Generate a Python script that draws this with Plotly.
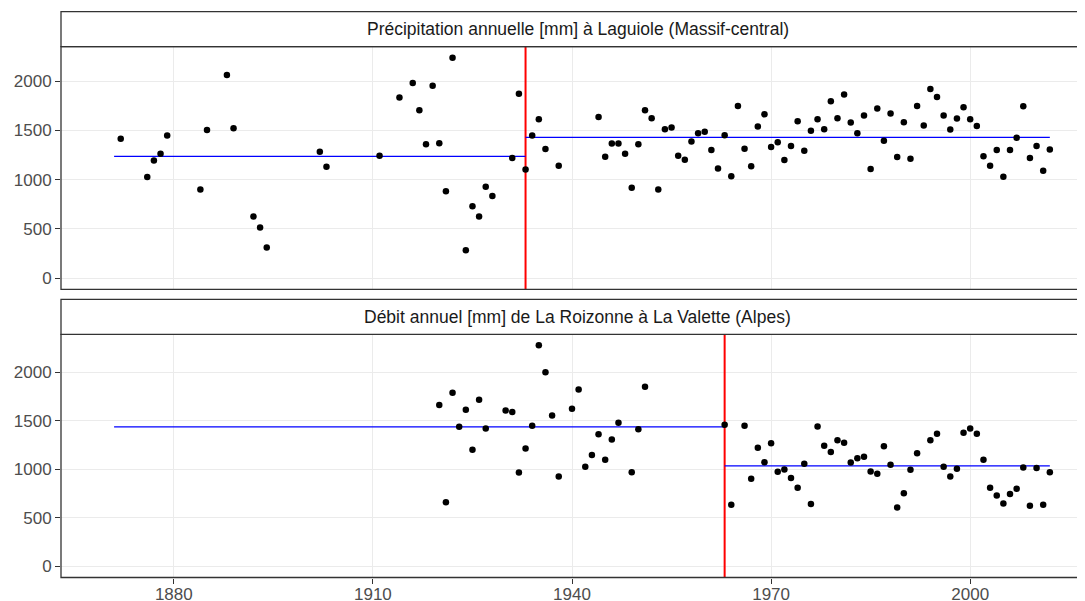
import plotly.graph_objects as go

# Précipitation annuelle à Laguiole
years_p = [1872, 1876, 1877, 1878, 1879, 1884, 1885, 1888, 1889, 1892, 1893, 1894,
           1902, 1903, 1911, 1914, 1916, 1917, 1918, 1919, 1920, 1921, 1922, 1924,
           1925, 1926, 1927, 1928, 1931, 1932, 1933, 1934, 1935, 1936, 1938,
           1944, 1945, 1946, 1947, 1948, 1949, 1950, 1951, 1952, 1953, 1954, 1955,
           1956, 1957, 1958, 1959, 1960, 1961, 1962, 1963, 1964, 1965, 1966, 1967,
           1968, 1969, 1970, 1971, 1972, 1973, 1974, 1975, 1976, 1977, 1978, 1979,
           1980, 1981, 1982, 1983, 1984, 1985, 1986, 1987, 1988, 1989, 1990, 1991,
           1992, 1993, 1994, 1995, 1996, 1997, 1998, 1999, 2000, 2001, 2002, 2003,
           2004, 2005, 2006, 2007, 2008, 2009, 2010, 2011, 2012]
precip = [1414, 1027, 1195, 1263, 1448, 899, 1502, 2061, 1522, 626, 515, 313,
          1283, 1131, 1242, 1832, 1980, 1704, 1360, 1953, 1370, 882, 2236, 283,
          731, 626, 929, 835, 1219, 1872, 1104, 1448, 1613, 1310, 1141,
          1636, 1232, 1367, 1367, 1263, 919, 1360, 1704, 1623, 899, 1512, 1529,
          1242, 1202, 1387, 1471, 1485, 1300, 1114, 1451, 1034, 1747, 1313, 1135,
          1539, 1663, 1330, 1380, 1199, 1340, 1593, 1293, 1495, 1613, 1512, 1795,
          1623, 1862, 1579, 1471, 1650, 1108, 1721, 1394, 1670, 1229, 1582, 1212,
          1747, 1549, 1919, 1838, 1650, 1508, 1620, 1734, 1613, 1545, 1236, 1141,
          1300, 1030, 1300, 1424, 1744, 1219, 1340, 1091, 1306]

# Débit annuel de La Roizonne à La Valette
years_q = [1920, 1921, 1922, 1923, 1924, 1925, 1926, 1927, 1930, 1931, 1932, 1933,
           1934, 1935, 1936, 1937, 1938, 1940, 1941, 1942, 1943, 1944, 1945, 1946,
           1947, 1949, 1950, 1951, 1963, 1964, 1966, 1967, 1968, 1969, 1970, 1971,
           1972, 1973, 1974, 1975, 1976, 1977, 1978, 1979, 1980, 1981, 1982, 1983,
           1984, 1985, 1986, 1987, 1988, 1989, 1990, 1991, 1992, 1994, 1995, 1996,
           1997, 1998, 1999, 2000, 2001, 2002, 2003, 2004, 2005, 2006, 2007, 2008,
           2009, 2010, 2011, 2012]
debit = [1666, 663, 1790, 1440, 1615, 1203, 1718, 1423, 1608, 1594, 968, 1216,
         1450, 2280, 2003, 1557, 928, 1625, 1825, 1027, 1148, 1364, 1100, 1309,
         1481, 972, 1416, 1852, 1460, 636, 1450, 904, 1223, 1075, 1271, 976,
         1000, 911, 811, 1058, 643, 1443, 1244, 1179, 1302, 1275, 1072, 1117,
         1130, 979, 955, 1240, 1048, 608, 756, 996, 1168, 1302, 1368, 1027,
         928, 1007, 1378, 1423, 1368, 1100, 811, 732, 649, 746, 801, 1020,
         625, 1014, 636, 972]

# ruptures et moyennes
seg_start, seg_end = 1871, 2012
break_p, mean_p = 1933, [1236, 1428]
break_q, mean_q = 1963, [1440, 1038]

titles = ["Précipitation annuelle [mm] à Laguiole (Massif-central)",
          "Débit annuel [mm] de La Roizonne à La Valette (Alpes)"]
x_ticks = [1880, 1910, 1940, 1970, 2000]
y_ticks = [0, 500, 1000, 1500, 2000]

# la page html ajoute 8px de marge autour de la figure
OFF = 8
W, H = 1085 - OFF, 601 - OFF

def py(v):
    return 1 - (v - OFF) / H

dom_top = [py(289.3), py(46.7)]
dom_bot = [py(577.5), py(334.3)]
strip_top = [py(46.7), py(11.7)]
strip_bot = [py(334.3), py(299.3)]

fig = go.Figure()

panels = [
    ("x", "y", years_p, precip, break_p, mean_p),
    ("x2", "y2", years_q, debit, break_q, mean_q),
]
for xa, ya, xs, ys, brk, means in panels:
    ymax = max(ys)
    yr = [-0.05 * ymax, 1.05 * ymax]
    # ligne de rupture
    fig.add_trace(go.Scatter(x=[brk, brk], y=[yr[0] - 200, yr[1] + 200], mode="lines",
                             line=dict(color="red", width=2), xaxis=xa, yaxis=ya,
                             showlegend=False, hoverinfo="skip"))
    # moyennes avant / après
    fig.add_trace(go.Scatter(x=[seg_start, brk, None, brk, seg_end],
                             y=[means[0], means[0], None, means[1], means[1]],
                             mode="lines", line=dict(color="blue", width=1.2),
                             xaxis=xa, yaxis=ya, showlegend=False))
    fig.add_trace(go.Scatter(x=xs, y=ys, mode="markers",
                             marker=dict(color="black", size=6.5),
                             xaxis=xa, yaxis=ya, showlegend=False))

tick_font = dict(family="Liberation Sans, Arial, sans-serif", size=17, color="#4D4D4D")
x_range = [1863.0, 2017.3]
axis_common = dict(showline=False, zeroline=False, gridcolor="#EBEBEB", gridwidth=1.3,
                   automargin=False, tickfont=tick_font)

yr_top = [-0.05 * max(precip), 1.05 * max(precip)]
yr_bot = [-0.05 * max(debit), 1.05 * max(debit)]

fig.update_layout(
    width=W, height=H,
    margin=dict(l=61 - OFF, r=0, t=0, b=0),
    paper_bgcolor="white", plot_bgcolor="white",
    xaxis=dict(domain=[0, 1], anchor="y", range=x_range, tickvals=x_ticks,
               showticklabels=False, ticks="", **axis_common),
    yaxis=dict(domain=dom_top, anchor="x", range=yr_top, tickvals=y_ticks,
               ticks="outside", ticklen=5, tickwidth=1.3, tickcolor="#333333",
               **axis_common),
    xaxis2=dict(domain=[0, 1], anchor="y2", range=x_range, tickvals=x_ticks,
                ticks="outside", ticklen=5, tickwidth=1.3, tickcolor="#333333",
                ticklabelstandoff=-4, **axis_common),
    yaxis2=dict(domain=dom_bot, anchor="x2", range=yr_bot, tickvals=y_ticks,
                ticks="outside", ticklen=5, tickwidth=1.3, tickcolor="#333333",
                **axis_common),
)

border = dict(color="#333333", width=1.3)
shapes = []
for dom, strip in [(dom_top, strip_top), (dom_bot, strip_bot)]:
    shapes.append(dict(type="rect", xref="paper", yref="paper", x0=0, x1=1.02,
                       y0=dom[0], y1=dom[1], line=border, fillcolor="rgba(0,0,0,0)",
                       layer="above"))
    shapes.append(dict(type="rect", xref="paper", yref="paper", x0=0, x1=1.02,
                       y0=strip[0], y1=strip[1], line=border, fillcolor="white",
                       layer="above"))
fig.update_layout(shapes=shapes)

strip_font = dict(family="Liberation Sans, Arial, sans-serif", size=17.5, color="#1A1A1A")
cx = (577.6 - 61) / (1085 - 61)
for title, strip in zip(titles, [strip_top, strip_bot]):
    fig.add_annotation(text=title, xref="paper", yref="paper", x=cx,
                       y=(strip[0] + strip[1]) / 2, showarrow=False,
                       xanchor="center", yanchor="middle", font=strip_font)

fig.write_html("out.html")
